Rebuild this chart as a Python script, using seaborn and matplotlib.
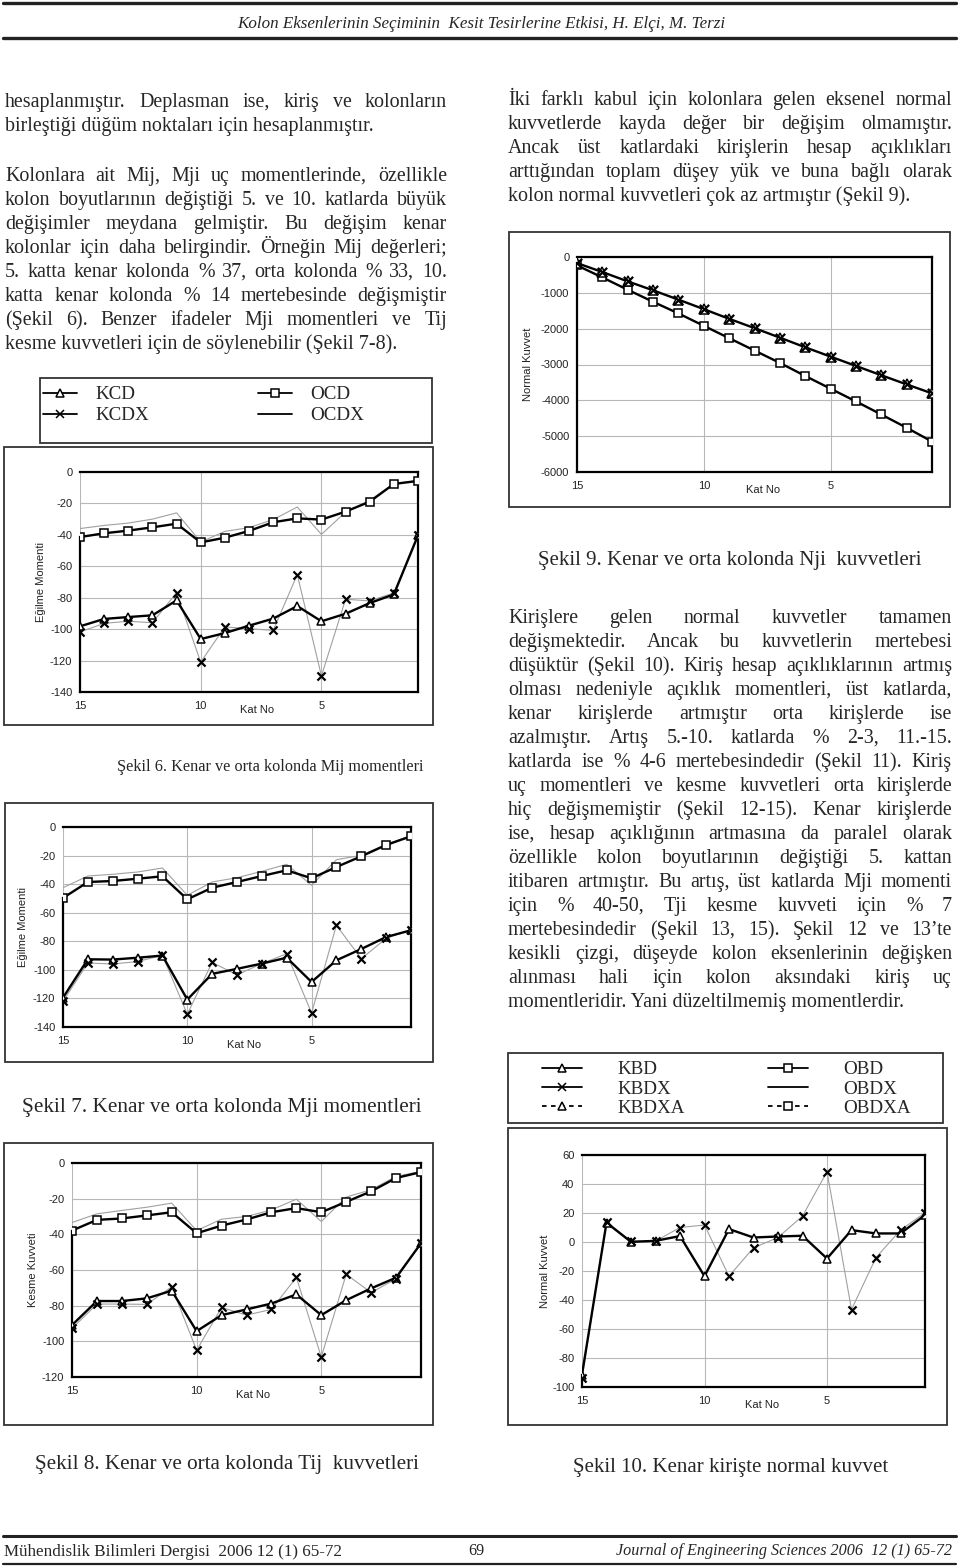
import math
import matplotlib
matplotlib.use("Agg")
import matplotlib.pyplot as plt
import seaborn as sns
from matplotlib.lines import Line2D
from matplotlib.patches import Rectangle
from matplotlib.font_manager import FontProperties

W, H = 960, 1567

# kat numaralari, x ekseni 15 -> 1
kat = [15, 14, 13, 12, 11, 10, 9, 8, 7, 6, 5, 4, 3, 2, 1]

# Sekil 6 - Mij momentleri
kcd_6 = [-98.2, -93.5, -92.3, -91.2, -81.7, -106.3, -102.5, -97.8, -93.3, -85.3, -95.0, -90.2, -83.4, -77.9, -40.3]
kcdx_6 = [-101.8, -96.3, -95.0, -95.9, -76.8, -121.0, -98.6, -99.7, -100.8, -65.3, -129.8, -81.0, -82.0, -77.0, -40.0]
ocd_6 = [-41.4, -39.0, -37.3, -35.2, -32.9, -44.8, -41.8, -37.5, -32.0, -29.5, -30.3, -25.2, -18.9, -7.6, -5.7]
ocdx_6 = [-36.0, -34.0, -32.5, -30.0, -26.0, -44.5, -37.8, -35.4, -30.3, -22.3, -39.7, -25.5, -18.0, -7.4, -5.3]

# Sekil 7 - Mji momentleri
kcd_7 = [-119.5, -92.6, -92.8, -91.5, -90.0, -120.8, -102.8, -99.3, -95.6, -91.5, -108.5, -93.3, -85.4, -77.0, -72.3]
kcdx_7 = [-122.0, -95.2, -95.9, -94.2, -89.8, -131.1, -94.8, -103.5, -95.6, -88.7, -130.2, -68.8, -92.2, -78.0, -71.8]
ocd_7 = [-49.7, -38.5, -37.8, -36.2, -34.5, -50.6, -42.5, -38.5, -34.3, -30.3, -35.9, -28.0, -20.5, -12.6, -6.5]
ocdx_7 = [-42.5, -34.3, -33.1, -31.5, -28.7, -47.8, -38.5, -35.5, -31.0, -26.1, -40.8, -22.9, -19.8, -12.1, -6.0]

# Sekil 8 - Tij kuvvetleri
kcd_8 = [-90.9, -77.4, -77.4, -75.9, -71.6, -94.3, -85.3, -82.1, -78.8, -73.7, -85.3, -76.9, -70.3, -64.3, -45.0]
kcdx_8 = [-92.8, -79.1, -79.1, -79.3, -69.4, -105.0, -81.0, -85.3, -82.1, -64.1, -108.8, -62.4, -72.7, -64.9, -45.0]
ocd_8 = [-37.9, -31.9, -31.1, -29.4, -27.6, -39.4, -35.1, -31.7, -27.6, -25.3, -27.6, -21.8, -15.9, -8.4, -5.1]
ocdx_8 = [-33.4, -28.5, -26.6, -24.8, -22.5, -37.9, -31.5, -30.0, -26.3, -20.3, -32.8, -19.1, -15.0, -7.5, -4.7]

# Sekil 9 - Nji kuvvetleri (X'li degerler ayni)
kcd_9 = [-170, -420, -680, -930, -1190, -1455, -1725, -1985, -2250, -2520, -2780, -3040, -3300, -3555, -3805]
ocd_9 = [-235, -570, -915, -1250, -1575, -1920, -2265, -2610, -2955, -3320, -3675, -4030, -4395, -4765, -5150]

# Sekil 10 - kenar kiriste normal kuvvet
kbd_10 = [-91.5, 13.3, 0.1, 0.8, 4.1, -23.6, 8.9, 3.1, 3.8, 4.3, -11.4, 8.2, 5.9, 5.9, 18.6]
kbdx_10 = [-93.5, 14.0, 0.6, 0.6, 10.0, 11.7, -23.6, -4.0, 3.1, 17.9, 48.5, -46.6, -10.7, 8.2, 20.2]

ticks_mom = [0, -20, -40, -60, -80, -100, -120, -140]
ticks_kesme = [0, -20, -40, -60, -80, -100, -120]
ticks_normal = [0, -1000, -2000, -3000, -4000, -5000, -6000]
ticks_kiris = [60, 40, 20, 0, -20, -40, -60, -80, -100]

header = "Kolon Eksenlerinin Seçiminin  Kesit Tesirlerine Etkisi, H. Elçi, M. Terzi"
footer_l = "Mühendislik Bilimleri Dergisi  2006 12 (1) 65-72"
footer_m = "69"
footer_r = "Journal of Engineering Sciences 2006  12 (1) 65-72"

left_p1 = [
    "hesaplanmıştır. Deplasman ise, kiriş ve kolonların",
    "birleştiği düğüm noktaları için hesaplanmıştır.",
]
left_p2 = [
    "Kolonlara ait Mij, Mji uç momentlerinde, özellikle",
    "kolon boyutlarının değiştiği 5. ve 10. katlarda büyük",
    "değişimler meydana gelmiştir. Bu değişim kenar",
    "kolonlar için daha belirgindir. Örneğin Mij değerleri;",
    "5. katta kenar kolonda % 37, orta kolonda % 33, 10.",
    "katta kenar kolonda % 14 mertebesinde değişmiştir",
    "(Şekil 6). Benzer ifadeler Mji momentleri ve Tij",
    "kesme kuvvetleri için de söylenebilir (Şekil 7-8).",
]
right_p1 = [
    "İki farklı kabul için kolonlara gelen eksenel normal",
    "kuvvetlerde kayda değer bir değişim olmamıştır.",
    "Ancak üst katlardaki kirişlerin hesap açıklıkları",
    "arttığından toplam düşey yük ve buna bağlı olarak",
    "kolon normal kuvvetleri çok az artmıştır (Şekil 9).",
]
right_p2 = [
    "Kirişlere gelen normal kuvvetler tamamen",
    "değişmektedir. Ancak bu kuvvetlerin mertebesi",
    "düşüktür (Şekil 10). Kiriş hesap açıklıklarının artmış",
    "olması nedeniyle açıklık momentleri, üst katlarda,",
    "kenar kirişlerde artmıştır orta kirişlerde ise",
    "azalmıştır. Artış 5.-10. katlarda % 2-3, 11.-15.",
    "katlarda ise % 4-6 mertebesindedir (Şekil 11). Kiriş",
    "uç momentleri ve kesme kuvvetleri orta kirişlerde",
    "hiç değişmemiştir (Şekil 12-15). Kenar kirişlerde",
    "ise, hesap açıklığının artmasına da paralel olarak",
    "özellikle kolon boyutlarının değiştiği 5. kattan",
    "itibaren artmıştır. Bu artış, üst katlarda Mji momenti",
    "için % 40-50, Tji kesme kuvveti için % 7",
    "mertebesindedir (Şekil 13, 15). Şekil 12 ve 13’te",
    "kesikli çizgi, düşeyde kolon eksenlerinin değişken",
    "alınması hali için kolon aksındaki kiriş uç",
    "momentleridir. Yani düzeltilmemiş momentlerdir.",
]

sns.set_style("white")
plt.rcParams["font.family"] = ["Liberation Sans", "DejaVu Sans"]
plt.rcParams["axes.unicode_minus"] = False

fig = plt.figure(figsize=(W / 100, H / 100), dpi=100)
rend = fig.canvas.get_renderer()


def fx(x):
    return x / W


def fy(y):
    return 1 - y / H


def serif(size, italic=False):
    return FontProperties(family="Liberation Serif", size=size,
                          style="italic" if italic else "normal")


def text_w(s, fp):
    t = fig.text(0, 0, s, fontproperties=fp)
    w = t.get_window_extent(rend).width
    t.remove()
    return w


def base_px(yc, fp):
    # satir ortasindan taban cizgisine (px, yukaridan)
    return yc + 0.34 * fp.get_size() * 100 / 72


def snapped(yb, word, fp):
    # agg kelimeyi piksele yuvarliyor; her kelimenin taban cizgisi ayni piksele gelsin
    _, h, d = rend.get_text_width_height_descent(word, fp, ismath=False)
    a = h - d
    return round(yb) + math.floor(h + 1e-9) - math.floor(a + 1e-9) - d


def paragraph(lines, x0, x1, y0, dy, size=14.4):
    fp = serif(size)
    widest = max(text_w(l, fp) for l in lines[:-1])
    if widest > x1 - x0:
        fp = serif(size * (x1 - x0) / widest)
    for i, line in enumerate(lines):
        yb = base_px(y0 + i * dy, fp)
        words = line.split()
        if i == len(lines) - 1:
            words = [line]
            gap = 0
            ws = [0]
        else:
            ws = [text_w(w, fp) for w in words]
            gap = (x1 - x0 - sum(ws)) / (len(words) - 1)
        x = x0
        for w, wd in zip(words, ws):
            fig.text(fx(x), fy(snapped(yb, w, fp)), w, fontproperties=fp, va="baseline")
            x += wd + gap


def fit_text(s, x0, x1, yc, italic=False):
    fp = serif(14.4, italic)
    fp = serif(14.4 * (x1 - x0) / text_w(s, fp), italic)
    fig.text(fx(x0), fy(base_px(yc, fp)), s, fontproperties=fp, va="baseline")


def hline(y, x0, x1, lw):
    fig.add_artist(Line2D([fx(x0), fx(x1)], [fy(y), fy(y)], transform=fig.transFigure,
                          color="#222222", lw=lw))


def box(x0, y0, x1, y1):
    fig.add_artist(Rectangle((fx(x0), fy(y1)), (x1 - x0) / W, (y1 - y0) / H,
                             transform=fig.transFigure, fill=False, ec="#333333", lw=1.3))


def make_axes(l, t, r, b, yticks, ylab, ylab_px, katno_px):
    ax = fig.add_axes([fx(l), fy(b), (r - l) / W, (b - t) / H])
    ax.set_xlim(15, 1)
    ax.set_ylim(yticks[-1], yticks[0])
    ax.set_xticks([15, 10, 5])
    ax.set_yticks(yticks)
    ax.grid(True, color="#b8b8b8", lw=0.8)
    ax.set_axisbelow(True)
    ax.tick_params(axis="both", length=0, labelsize=8, colors="#222222")
    ax.tick_params(axis="y", pad=5.5)
    ax.tick_params(axis="x", pad=6.5)
    ax.set_ylabel(ylab, fontsize=8, color="#222222", va="center")
    ax.yaxis.set_label_coords((ylab_px - l) / (r - l), 0.5)
    ax.set_xlabel("Kat No", fontsize=8, color="#222222", va="center")
    ax.xaxis.set_label_coords((katno_px - l) / (r - l), -18 / (b - t))
    for side in ["top", "right", "bottom"]:
        ax.spines[side].set_color("black")
        ax.spines[side].set_linewidth(1.6)
    return ax


def left_spine(ax, top_val):
    ax.spines["left"].set_color("black")
    ax.spines["left"].set_linewidth(1.6)
    ax.spines["left"].set_bounds(ax.get_ylim()[0], top_val)


def thick(ax, y, marker, ms=5.5):
    sns.lineplot(x=kat, y=y, ax=ax, color="black", lw=1.7, marker=marker, markersize=ms,
                 markerfacecolor="white", markeredgecolor="black", markeredgewidth=1.1,
                 legend=False, zorder=3)


def thin(ax, y):
    sns.lineplot(x=kat, y=y, ax=ax, color="#a0a0a0", lw=0.8, legend=False, zorder=2)


def crosses(ax, y, s=34):
    sns.scatterplot(x=kat, y=y, ax=ax, marker="x", color="black", s=s, linewidth=1.6,
                    legend=False, zorder=4)


def column_chart(ax, kcd, kcdx, ocd, ocdx):
    thin(ax, ocdx)
    thin(ax, kcdx)
    thick(ax, ocd, "s")
    thick(ax, kcd, "^", ms=6)
    crosses(ax, kcdx)
    left_spine(ax, max(ocd[0], kcd[0]))


# ---- header / footer ----
hline(3, 3, 956, 2.4)
hline(38, 3, 956, 2.4)
fit_text(header, 237, 723, 22, italic=True)
hline(1536, 3, 956, 2.2)
hline(1564, 3, 956, 1.6)
fit_text(footer_l, 4, 343, 1550)
fp_foot = serif(11.6)
fig.text(fx(476), fy(base_px(1550, fp_foot)), footer_m, fontproperties=fp_foot, ha="center", va="baseline")
fp_foot_i = serif(11.6, True)
fig.text(fx(952), fy(base_px(1550, fp_foot_i)), footer_r, fontproperties=fp_foot_i, ha="right", va="baseline")

# ---- paragraphs ----
paragraph(left_p1, 5, 447, 100, 24)
paragraph(left_p2, 5, 447, 174, 24)
paragraph(right_p1, 508, 952, 98, 24)
paragraph(right_p2, 508, 952, 616, 24)

# ---- legends ----
fp_leg = serif(13.7)
box(40, 378, 432, 443)
h_kcd = Line2D([], [], color="k", lw=1.3, marker="^", ms=6, mfc="white", mec="k", mew=1.1)
h_kcdx = Line2D([], [], color="k", lw=1.3, marker="x", ms=6, mew=1.1)
h_ocd = Line2D([], [], color="k", lw=1.3, marker="s", ms=5.5, mfc="white", mec="k", mew=1.1)
h_ocdx = Line2D([], [], color="k", lw=1.3)
fig.legend([h_kcd, h_kcdx, h_ocd, h_ocdx], ["KCD", "KCDX", "OCD", "OCDX"], ncol=2,
           loc="upper left", bbox_to_anchor=(fx(43), fy(386)), frameon=False, prop=fp_leg,
           handlelength=1.8, handletextpad=0.95, columnspacing=5.7, labelspacing=0.2,
           borderpad=0, borderaxespad=0)

box(508, 1053, 943, 1123)
dash = (0, (2.5, 2.5))
h_kbd = Line2D([], [], color="k", lw=1.3, marker="^", ms=6, mfc="white", mec="k", mew=1.1)
h_kbdx = Line2D([], [], color="k", lw=1.3, marker="x", ms=6, mew=1.1)
h_kbdxa = Line2D([], [], color="k", lw=1.3, ls=dash, marker="^", ms=6, mfc="white", mec="k", mew=1.1)
h_obd = Line2D([], [], color="k", lw=1.3, marker="s", ms=5.5, mfc="white", mec="k", mew=1.1)
h_obdx = Line2D([], [], color="k", lw=1.3)
h_obdxa = Line2D([], [], color="k", lw=1.3, ls=dash, marker="s", ms=5.5, mfc="white", mec="k", mew=1.1)
fig.legend([h_kbd, h_kbdx, h_kbdxa, h_obd, h_obdx, h_obdxa],
           ["KBD", "KBDX", "KBDXA", "OBD", "OBDX", "OBDXA"], ncol=2,
           loc="upper left", bbox_to_anchor=(fx(542), fy(1061)), frameon=False, prop=fp_leg,
           handlelength=2.1, handletextpad=1.85, columnspacing=4.4, labelspacing=0.1,
           borderpad=0, borderaxespad=0)

# ---- Sekil 6 ----
box(4, 447, 433, 725)
ax6 = make_axes(80, 472, 418, 692, ticks_mom, "Eğilme Momenti", 41, 257)
column_chart(ax6, kcd_6, kcdx_6, ocd_6, ocdx_6)
fit_text("Şekil 6. Kenar ve orta kolonda Mij momentleri", 117, 422, 765)

# ---- Sekil 7 ----
box(5, 803, 433, 1062)
ax7 = make_axes(63, 827, 411, 1027, ticks_mom, "Eğilme Momenti", 23, 244)
column_chart(ax7, kcd_7, kcdx_7, ocd_7, ocdx_7)
fit_text("Şekil 7. Kenar ve orta kolonda Mji momentleri", 22, 422, 1105)

# ---- Sekil 8 ----
box(4, 1143, 433, 1425)
ax8 = make_axes(72, 1163, 421, 1377, ticks_kesme, "Kesme Kuvveti", 33, 253)
column_chart(ax8, kcd_8, kcdx_8, ocd_8, ocdx_8)
fit_text("Şekil 8. Kenar ve orta kolonda Tij  kuvvetleri", 35, 418, 1462)

# ---- Sekil 9 ----
box(509, 232, 950, 507)
ax9 = make_axes(577, 257, 932, 472, ticks_normal, "Normal Kuvvet", 528, 763)
thin(ax9, ocd_9)
thick(ax9, ocd_9, "s", ms=6)
thick(ax9, kcd_9, "^", ms=7)
crosses(ax9, kcd_9, s=45)
left_spine(ax9, max(ocd_9[0], kcd_9[0]))
fit_text("Şekil 9. Kenar ve orta kolonda Nji  kuvvetleri", 538, 920, 558)

# ---- Sekil 10 ----
box(508, 1128, 947, 1425)
ax10 = make_axes(582, 1155, 925, 1387, ticks_kiris, "Normal Kuvvet", 545, 762)
thin(ax10, kbdx_10)
thick(ax10, kbd_10, "^", ms=6)
crosses(ax10, kbdx_10)
left_spine(ax10, kbd_10[0])
fit_text("Şekil 10. Kenar kirişte normal kuvvet", 573, 888, 1465)

fig.savefig("out.png", dpi=100)
